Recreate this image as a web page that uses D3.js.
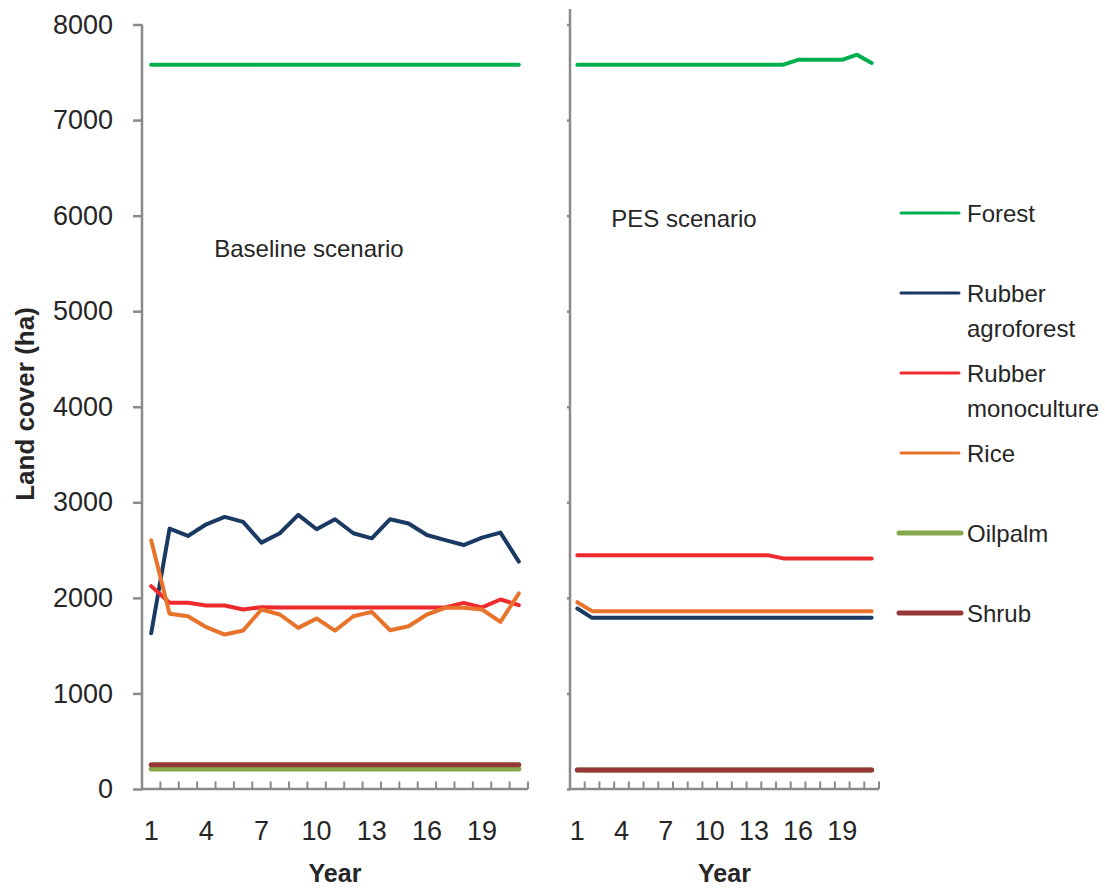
<!DOCTYPE html>
<html>
<head>
<meta charset="utf-8">
<script src="https://cdn.jsdelivr.net/npm/d3@7/dist/d3.min.js"></script>
<style>
  body { margin: 0; background: #fff; }
  svg { display: block; font-family: "Liberation Sans", Arial, sans-serif; }
</style>
</head>
<body>
<svg id="chart" width="1105" height="890"></svg>
<script>
// ---- data ----
const years = [1, 2, 3, 4, 5, 6, 7, 8, 9, 10, 11, 12, 13, 14, 15, 16, 17, 18, 19, 20, 21];
const yearTickLabels = [1, 4, 7, 10, 13, 16, 19];
const coverTicks = [0, 1000, 2000, 3000, 4000, 5000, 6000, 7000, 8000];
const landCovers = ["Forest", "Rubber agroforest", "Rubber monoculture", "Rice", "Oilpalm", "Shrub"];

// Baseline scenario (ha)
const baseForest = [7580, 7580, 7580, 7580, 7580, 7580, 7580, 7580, 7580, 7580, 7580, 7580, 7580, 7580, 7580, 7580, 7580, 7580, 7580, 7580, 7580];
const baseRubberAgro = [1630, 2725, 2648, 2770, 2847, 2795, 2578, 2676, 2868, 2718, 2823, 2676, 2623, 2823, 2778, 2658, 2605, 2553, 2630, 2683, 2379];
const baseRubberMono = [2123, 1948, 1948, 1920, 1920, 1878, 1903, 1900, 1900, 1900, 1900, 1900, 1900, 1900, 1900, 1900, 1900, 1948, 1900, 1983, 1924];
const baseRice = [2602, 1833, 1808, 1693, 1616, 1658, 1878, 1826, 1686, 1784, 1658, 1808, 1854, 1661, 1703, 1826, 1896, 1896, 1878, 1749, 2046];
const baseOilpalm = [208, 208, 208, 208, 208, 208, 208, 208, 208, 208, 208, 208, 208, 208, 208, 208, 208, 208, 208, 208, 208];
const baseShrub = [255, 255, 255, 255, 255, 255, 255, 255, 255, 255, 255, 255, 255, 255, 255, 255, 255, 255, 255, 255, 255];

// PES scenario (ha)
const pesForest = [7580, 7580, 7580, 7580, 7580, 7580, 7580, 7580, 7580, 7580, 7580, 7580, 7580, 7580, 7580, 7630, 7630, 7630, 7630, 7684, 7597];
const pesRubberAgro = [1889, 1791, 1791, 1791, 1791, 1791, 1791, 1791, 1791, 1791, 1791, 1791, 1791, 1791, 1791, 1791, 1791, 1791, 1791, 1791, 1791];
const pesRubberMono = [2445, 2445, 2445, 2445, 2445, 2445, 2445, 2445, 2445, 2445, 2445, 2445, 2445, 2445, 2413, 2413, 2413, 2413, 2413, 2413, 2413];
const pesRice = [1955, 1861, 1861, 1861, 1861, 1861, 1861, 1861, 1861, 1861, 1861, 1861, 1861, 1861, 1861, 1861, 1861, 1861, 1861, 1861, 1861];
const pesOilpalm = [200, 200, 200, 200, 200, 200, 200, 200, 200, 200, 200, 200, 200, 200, 200, 200, 200, 200, 200, 200, 200];
const pesShrub = [200, 200, 200, 200, 200, 200, 200, 200, 200, 200, 200, 200, 200, 200, 200, 200, 200, 200, 200, 200, 200];

// ---- styles ----
const seriesColors = ["#00b050", "#1b3a63", "#ee2a2d", "#e8742c", "#86a84a", "#953836"];
const seriesWidths = [4, 4, 4, 4, 5, 5];
const legendWidths = [3, 3, 3, 3, 5, 5];
const axisColor = "#8a8a8a";
const textColor = "#262626";

const svg = d3.select("#chart");

const y = d3.scaleLinear().domain([0, 8000]).range([789, 24.5]);

const panels = [
  {
    name: "Baseline scenario",
    series: [baseForest, baseRubberAgro, baseRubberMono, baseRice, baseOilpalm, baseShrub],
    x0: 142, x1: 528, axisTop: y(8000), labelled: true,
    titleX: 309, titleY: 257
  },
  {
    name: "PES scenario",
    series: [pesForest, pesRubberAgro, pesRubberMono, pesRice, pesOilpalm, pesShrub],
    x0: 570, x1: 879, axisTop: 9, labelled: false,
    titleX: 684, titleY: 227
  }
];

panels.forEach(p => {
  const x = d3.scaleBand().domain(years).range([p.x0, p.x1]).padding(0);
  const cx = d => x(d) + x.bandwidth() / 2;
  const g = svg.append("g");

  // y axis
  const yAxis = d3.axisLeft(y)
    .tickValues(coverTicks)
    .tickSize(p.labelled ? 9 : 3)
    .tickPadding(20)
    .tickFormat(p.labelled ? d3.format("d") : () => "");
  const ya = g.append("g").attr("transform", `translate(${p.x0},0)`).call(yAxis);
  ya.select(".domain").remove();
  ya.selectAll(".tick line").attr("stroke", axisColor).attr("stroke-width", 2.5);
  ya.selectAll(".tick text")
    .attr("fill", textColor)
    .style("font-size", "27px")
    .style("font-family", "'Liberation Sans', Arial, sans-serif");
  g.append("line")
    .attr("x1", p.x0).attr("x2", p.x0)
    .attr("y1", p.axisTop).attr("y2", y(0) + 1.2)
    .attr("stroke", axisColor).attr("stroke-width", 2.5);

  // x axis: baseline, band-boundary ticks and labels
  g.append("line")
    .attr("x1", p.x0 - 1.2).attr("x2", p.x1)
    .attr("y1", y(0)).attr("y2", y(0))
    .attr("stroke", axisColor).attr("stroke-width", 2.5);
  g.selectAll(".xtick").data(years).enter().append("line")
    .attr("x1", d => x(d) + x.bandwidth()).attr("x2", d => x(d) + x.bandwidth())
    .attr("y1", y(0)).attr("y2", y(0) - 7.5)
    .attr("stroke", axisColor).attr("stroke-width", 2);
  g.selectAll(".xlabel").data(yearTickLabels).enter().append("text")
    .attr("x", d => cx(d)).attr("y", 840)
    .attr("text-anchor", "middle")
    .attr("fill", textColor)
    .style("font-size", "27px")
    .text(d => d);
  g.append("text")
    .attr("x", (p.x0 + p.x1) / 2).attr("y", 882)
    .attr("text-anchor", "middle")
    .attr("fill", textColor)
    .style("font-size", "25px").style("font-weight", "bold")
    .text("Year");

  // scenario title
  g.append("text")
    .attr("x", p.titleX).attr("y", p.titleY)
    .attr("text-anchor", "middle")
    .attr("fill", textColor)
    .style("font-size", "24px")
    .text(p.name);

  // series lines
  const line = d3.line().x((d, i) => cx(years[i])).y(d => y(d));
  p.series.forEach((vals, i) => {
    g.append("path")
      .datum(vals)
      .attr("d", line)
      .attr("fill", "none")
      .attr("stroke", seriesColors[i])
      .attr("stroke-width", seriesWidths[i])
      .attr("stroke-linecap", "round")
      .attr("stroke-linejoin", "round");
  });
});

// y axis title
svg.append("text")
  .attr("transform", "translate(34,404) rotate(-90)")
  .attr("text-anchor", "middle")
  .attr("fill", textColor)
  .style("font-size", "26px").style("font-weight", "bold")
  .text("Land cover (ha)");

// legend
const legendRows = [
  { lines: ["Forest"], y: 213 },
  { lines: ["Rubber", "agroforest"], y: 293 },
  { lines: ["Rubber", "monoculture"], y: 373 },
  { lines: ["Rice"], y: 453 },
  { lines: ["Oilpalm"], y: 533 },
  { lines: ["Shrub"], y: 613 }
];
const legend = svg.append("g");
legendRows.forEach((row, i) => {
  const thick = legendWidths[i] > 4;
  legend.append("line")
    .attr("x1", thick ? 899 : 901).attr("x2", thick ? 961 : 959)
    .attr("y1", row.y).attr("y2", row.y)
    .attr("stroke", seriesColors[i])
    .attr("stroke-width", legendWidths[i])
    .attr("stroke-linecap", "round");
  const t = legend.append("text")
    .attr("x", 967).attr("y", row.y + 8.5)
    .attr("fill", textColor)
    .style("font-size", "24px");
  row.lines.forEach((s, j) => {
    t.append("tspan").attr("x", 967).attr("dy", j === 0 ? 0 : 35).text(s);
  });
});
</script>
</body>
</html>
